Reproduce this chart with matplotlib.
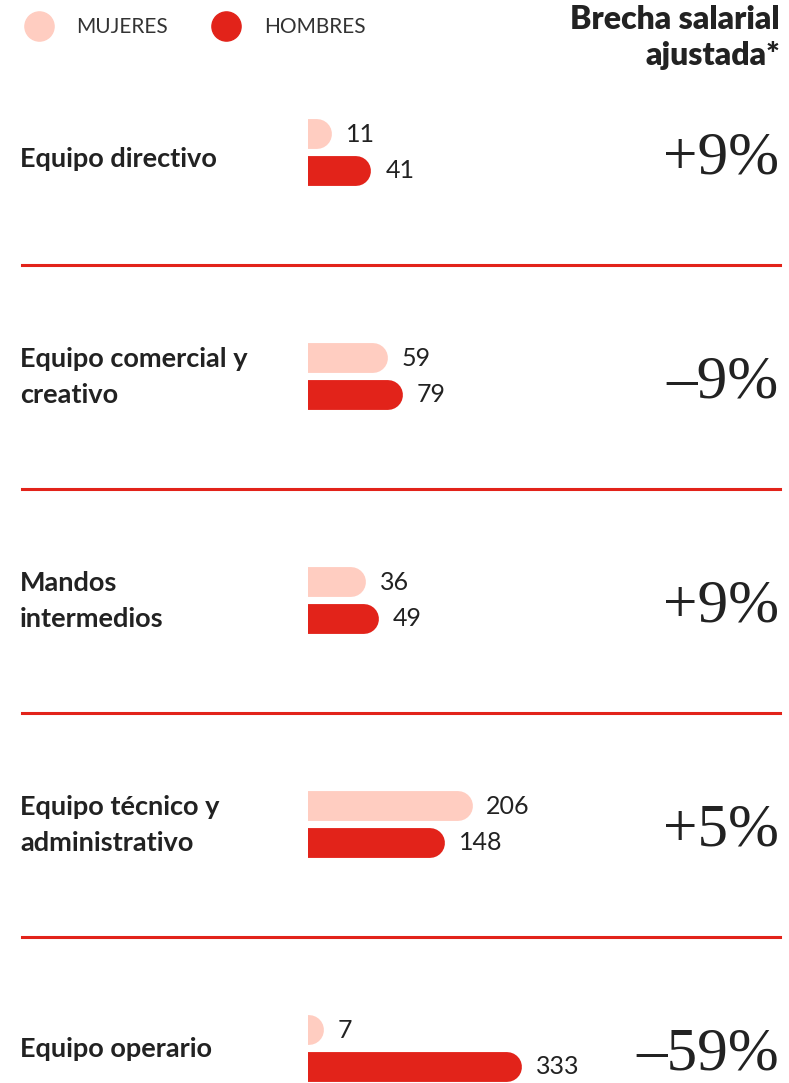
import numpy as np
import matplotlib.pyplot as plt
import matplotlib.transforms as mtransforms
from matplotlib.lines import Line2D

# data
categories = ["Equipo directivo", "Equipo comercial y\ncreativo", "Mandos\nintermedios",
              "Equipo técnico y\nadministrativo", "Equipo operario"]
mujeres = [11, 59, 36, 206, 7]
hombres = [41, 79, 49, 148, 333]
brecha = ["+9%", "–9%", "+9%", "+5%", "–59%"]

PINK = "#ffcdc1"
RED = "#e2231a"
INK = "#222222"
BAR_LW = 21.5  # points, ~30px thick bars

plt.rcParams['font.family'] = ['Lato', 'DejaVu Sans']

fig = plt.figure(figsize=(7.89, 10.83), dpi=100)

# axes that holds the bars; y is the group index
ax = fig.add_axes([308 / 789, 0, 214 / 789, 1])
ax.set_xscale('function', functions=(lambda v: np.sqrt(np.clip(v, 0, None)), np.square))
ax.set_xlim(2, max(max(mujeres), max(hombres)))
ax.set_ylim(4.154, -0.681)
ax.axis('off')

# shift lines left by half their width so the round cap ends at the value
shift = mtransforms.ScaledTranslation(-BAR_LW / 2 / 72, 0, fig.dpi_scale_trans)
off = 0.0815
for i in range(len(categories)):
    for val, yy, col in [(mujeres[i], i - off, PINK), (hombres[i], i + off, RED)]:
        ax.plot([0, val], [yy, yy], color=col, lw=BAR_LW, solid_capstyle='round',
                transform=ax.transData + shift, clip_on=True)
        ax.annotate(str(val), (val, yy), xytext=(10, 0), textcoords='offset points',
                    va='center', ha='left', fontsize=18, color=INK, clip_on=False)

# category labels, dividers and gap values across the figure width
blend = mtransforms.blended_transform_factory(fig.transFigure, ax.transData)
for i, cat in enumerate(categories):
    ax.text(20 / 789, i + (0.03 if i == 0 else 0.0), cat, transform=blend, ha='left',
            va='center', fontsize=19.5, fontweight='bold', color=INK, linespacing=1.6)
    ax.text(779 / 789, i + 0.095, brecha[i], transform=blend, ha='right', va='baseline',
            fontsize=44, color=INK, family='Liberation Serif')
for i in range(len(categories) - 1):
    ax.add_line(Line2D([22 / 789, 780 / 789], [i + 0.5, i + 0.5], transform=blend,
                       color=RED, lw=2.2, clip_on=False))

# header
fig.text(780 / 789, 1 - 5 / 1083, "Brecha salarial\najustada*", ha='right', va='top',
         fontsize=23, fontweight='heavy', color=INK, linespacing=1.3)

handles = [Line2D([], [], marker='o', ls='none', markersize=21, color=PINK, label='MUJERES'),
           Line2D([], [], marker='o', ls='none', markersize=21, color=RED, label='HOMBRES')]
leg = fig.legend(handles=handles, loc='center left', bbox_to_anchor=(18 / 789, 1 - 27 / 1083),
                 ncol=2, frameon=False, fontsize=15, handlelength=2.0, handletextpad=0.8,
                 columnspacing=1.8, borderpad=0, borderaxespad=0)
for t in leg.get_texts():
    t.set_color("#333333")

fig.savefig("out.png", dpi=100)
